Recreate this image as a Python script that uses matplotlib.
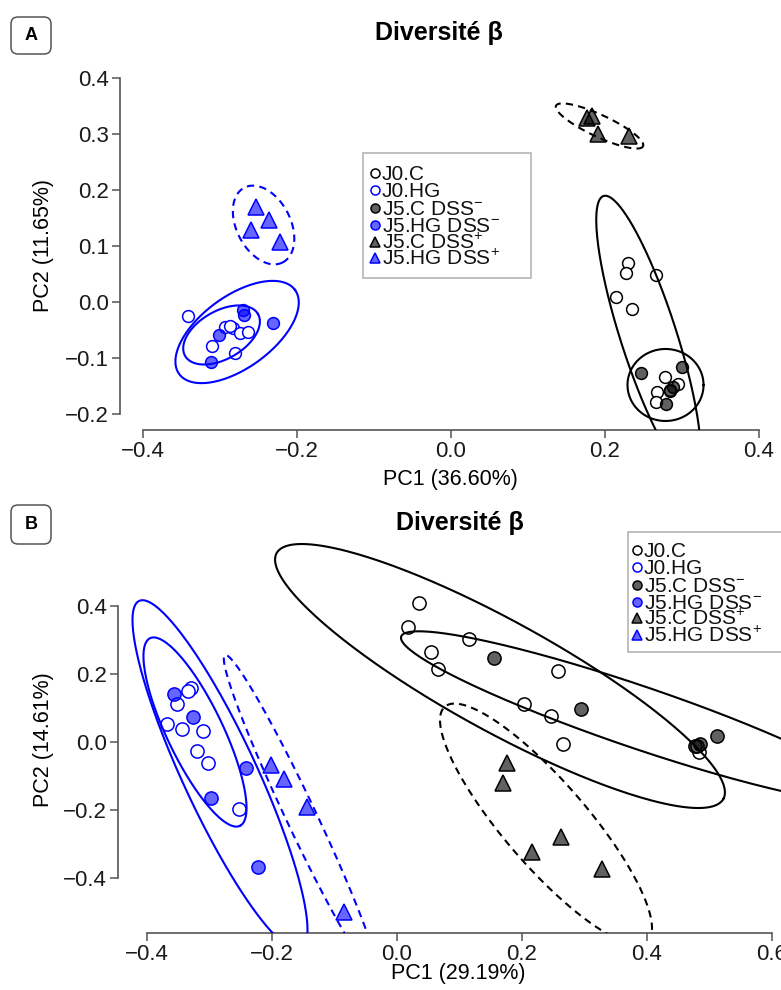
import numpy as np
import matplotlib
matplotlib.use("Agg")
import matplotlib.pyplot as plt
from matplotlib.patches import FancyBboxPatch, Rectangle
from matplotlib.lines import Line2D

plt.rcParams["font.family"] = ["Liberation Sans", "DejaVu Sans"]
plt.rcParams["mathtext.fontset"] = "custom"
plt.rcParams["mathtext.rm"] = "Liberation Sans"
plt.rcParams["mathtext.it"] = "Liberation Sans:italic"
plt.rcParams["mathtext.bf"] = "Liberation Sans:bold"

# groupes (ordre de la legende)
groups = ["J0.C", "J0.HG", "J5.C DSS-", "J5.HG DSS-", "J5.C DSS+", "J5.HG DSS+"]
legend_labels = ["J0.C", "J0.HG", "J5.C DSS$^{-}$", "J5.HG DSS$^{-}$",
                 "J5.C DSS$^{+}$", "J5.HG DSS$^{+}$"]

# ---- Panel A : PCoA (PC1 36.60%, PC2 11.65%)
A_J0C_X = [0.2305, 0.2279, 0.2656, 0.2149, 0.2357, 0.2773, 0.2942, 0.2669, 0.2656, 0.2838]
A_J0C_Y = [0.0696, 0.0518, 0.0482, 0.0089, -0.0125, -0.1339, -0.1464, -0.1607, -0.1786, -0.1571]
A_J0HG_X = [-0.3418, -0.311, -0.2812, -0.2942, -0.2838, -0.2747, -0.2643, -0.2877]
A_J0HG_Y = [-0.025, -0.078, -0.0911, -0.0446, -0.0464, -0.0554, -0.0536, -0.0429]
A_J5CM_X = [0.2461, 0.2994, 0.2838, 0.2786, 0.2877]
A_J5CM_Y = [-0.1268, -0.1161, -0.1589, -0.1821, -0.1518]
A_J5HGM_X = [-0.2701, -0.2695, -0.2314, -0.302, -0.3114]
A_J5HGM_Y = [-0.0143, -0.0232, -0.038, -0.0589, -0.1066]
A_J5CP_X = [0.176, 0.1825, 0.1903, 0.2318]
A_J5CP_Y = [0.3286, 0.3321, 0.3, 0.2964]
A_J5HGP_X = [-0.2539, -0.237, -0.2595, -0.2227]
A_J5HGP_Y = [0.1702, 0.1464, 0.1286, 0.1077]

# ellipses panel A (centre, demi-axe u, demi-axe v), meme ordre que groups
A_ELL_CX = [0.2565, -0.2981, 0.2786, -0.2779, 0.1929, -0.2435]
A_ELL_CY = [-0.0607, -0.0589, -0.1482, -0.0536, 0.3143, 0.1375]
A_ELL_UX = [0.0584, 0.0473, 0.0494, 0.0753, 0.0565, 0.0249]
A_ELL_UY = [-0.25, 0.0375, 0.0, 0.075, -0.0362, -0.0668]
A_ELL_VX = [-0.0346, 0.0156, 0.0, 0.0274, -0.006, -0.0312]
A_ELL_VY = [-0.0153, -0.0371, -0.0643, -0.0521, -0.0178, -0.022]

# ---- Panel B : PCoA (PC1 29.19%, PC2 14.61%)
B_J0C_X = [0.0352, 0.0171, 0.1157, 0.0544, 0.0661, 0.2581, 0.2032, 0.2464, 0.2651, 0.4837, 0.4795]
B_J0C_Y = [0.4085, 0.3381, 0.3012, 0.263, 0.2132, 0.2091, 0.1106, 0.0762, -0.0067, -0.0284, -0.0109]
B_J0HG_X = [-0.3301, -0.3349, -0.3515, -0.3685, -0.3435, -0.3109, -0.3205, -0.3019, -0.2528]
B_J0HG_Y = [0.1592, 0.1496, 0.1106, 0.0528, 0.0381, 0.0331, -0.0255, -0.0607, -0.1965]
B_J5CM_X = [0.1547, 0.2944, 0.5115, 0.4768, 0.4848]
B_J5CM_Y = [0.2472, 0.0959, 0.0176, -0.0109, -0.0059]
B_J5HGM_X = [-0.3563, -0.3269, -0.2416, -0.2981, -0.2219]
B_J5HGM_Y = [0.1399, 0.0724, -0.0754, -0.1651, -0.3657]
B_J5CP_X = [0.1765, 0.1691, 0.2624, 0.2155, 0.328]
B_J5CP_Y = [-0.0607, -0.1211, -0.2777, -0.3217, -0.3733]
B_J5HGP_X = [-0.2021, -0.1808, -0.1445, -0.0848]
B_J5HGP_Y = [-0.0674, -0.1094, -0.1897, -0.4977]

B_ELL_CX = [0.1648, -0.3232, 0.3856, -0.2832, 0.2384, -0.1536]
B_ELL_CY = [0.1935, 0.0293, 0.0733, -0.0968, -0.2405, -0.217]
B_ELL_UX = [0.3574, 0.0719, 0.3789, 0.1293, 0.1619, 0.1216]
B_ELL_UY = [-0.3604, -0.2751, -0.2361, -0.5106, -0.344, -0.4718]
B_ELL_VX = [-0.0424, -0.0404, -0.016, -0.0537, -0.0505, -0.0217]
B_ELL_VY = [-0.1413, -0.0355, -0.0862, -0.0457, -0.08, -0.0188]

# styles
BLUE = "#0000ff"
edge_cols = ["black", BLUE, "black", BLUE, "black", BLUE]
face_cols = ["white", "white", (0, 0, 0, 0.62), (0, 0, 1, 0.6), (0, 0, 0, 0.62), (0, 0, 1, 0.6)]
markers = ["o", "o", "o", "o", "^", "^"]
line_st = ["-", "-", "-", "-", (0, (3.5, 2.5)), (0, (3.5, 2.5))]

W, H = 781, 990
fig = plt.figure(figsize=(W / 100, H / 100), dpi=100)


def fx(px):
    return px / W


def fy(py):
    return 1 - py / H


def panel(box, xlim, ylim, xt, yt, xb, yb, pts, ell, msz):
    L, T, R, B = box
    ax = fig.add_axes([fx(L), fy(B), (R - L) / W, (B - T) / H])
    ax.set_xlim(*xlim)
    ax.set_ylim(*ylim)
    for i in range(6):
        ax.plot(pts[i][0], pts[i][1], ls="none", marker=markers[i],
                mfc=face_cols[i], mec=edge_cols[i], mew=1.1,
                ms=msz[1] if markers[i] == "^" else msz[0], zorder=3)
    t = np.linspace(0, 2 * np.pi, 300)
    cx, cy, ux, uy, vx, vy = ell
    for i in range(6):
        ex = cx[i] + ux[i] * np.cos(t) + vx[i] * np.sin(t)
        ey = cy[i] + uy[i] * np.cos(t) + vy[i] * np.sin(t)
        ax.plot(ex, ey, color=edge_cols[i], ls=line_st[i], lw=1.5, zorder=4)
    for s in ["top", "right"]:
        ax.spines[s].set_visible(False)
    ax.spines["bottom"].set_bounds(xb)
    ax.spines["left"].set_bounds(yb)
    for s in ["bottom", "left"]:
        ax.spines[s].set_color("#555555")
        ax.spines[s].set_linewidth(1.2)
    ax.set_xticks(xt)
    ax.set_yticks(yt)
    ax.set_xticklabels(["%.1f" % v if v >= 0 else "\u2212%.1f" % -v for v in xt])
    ax.set_yticklabels(["%.1f" % v if v >= 0 else "\u2212%.1f" % -v for v in yt])
    ax.tick_params(length=6, width=1.1, color="#555555", labelsize=16,
                   labelcolor="#1a1a1a", pad=2)
    ax.patch.set_alpha(0)
    return ax


def legend(x0, y0, x1, y1, mx, tx, ys, msz):
    fig.add_artist(Rectangle((fx(x0), fy(y1)), (x1 - x0) / W, (y1 - y0) / H,
                             transform=fig.transFigure, facecolor="white",
                             edgecolor="#bbbbbb", lw=1.3, zorder=10))
    for i in range(6):
        fig.add_artist(Line2D([fx(mx)], [fy(ys[i])], transform=fig.transFigure,
                              ls="none", marker=markers[i], mfc=face_cols[i],
                              mec=edge_cols[i], mew=1.1,
                              ms=msz + 1 if markers[i] == "^" else msz, zorder=11))
        fig.text(fx(tx), fy(ys[i] + 7), legend_labels[i], fontsize=15,
                 color="#111111", ha="left", va="baseline", zorder=11)


def tag(letter, y0, y1):
    fig.add_artist(FancyBboxPatch((0.11, (H - y1) / 100), 0.40, (y1 - y0) / 100,
                                  boxstyle="round,pad=0,rounding_size=0.07",
                                  transform=fig.dpi_scale_trans, facecolor="white",
                                  edgecolor="#555555", lw=1.1))
    fig.text(fx(31), fy((y0 + y1) / 2), letter, fontsize=13, fontweight="bold",
             ha="center", va="center")


# ---- Panel A
pts_a = [(A_J0C_X, A_J0C_Y), (A_J0HG_X, A_J0HG_Y), (A_J5CM_X, A_J5CM_Y),
         (A_J5HGM_X, A_J5HGM_Y), (A_J5CP_X, A_J5CP_Y), (A_J5HGP_X, A_J5HGP_Y)]
ell_a = (A_ELL_CX, A_ELL_CY, A_ELL_UX, A_ELL_UY, A_ELL_VX, A_ELL_VY)
panel((120, 65, 781, 430), (-0.430, 0.4286), (-0.2286, 0.4232),
      [-0.4, -0.2, 0.0, 0.2, 0.4], [-0.2, -0.1, 0.0, 0.1, 0.2, 0.3, 0.4],
      (-0.4, 0.4), (-0.2, 0.4), pts_a, ell_a, (8.5, 11))
fig.text(fx(439), fy(33), "Diversit\u00e9 \u03b2", fontsize=18, fontweight="bold",
         ha="center", va="center")
fig.text(fx(450), fy(479), "PC1 (36.60%)", fontsize=15.5, ha="center", va="center")
fig.text(fx(44), fy(245), "PC2 (11.65%)", fontsize=15.5, ha="center", va="center",
         rotation=90)
legend(363, 153, 531, 278, 375, 382, [173, 190, 208, 225, 242, 258], 6.5)
tag("A", 17, 54)

# ---- Panel B
pts_b = [(B_J0C_X, B_J0C_Y), (B_J0HG_X, B_J0HG_Y), (B_J5CM_X, B_J5CM_Y),
         (B_J5HGM_X, B_J5HGM_Y), (B_J5CP_X, B_J5CP_Y), (B_J5HGP_X, B_J5HGP_Y)]
ell_b = (B_ELL_CX, B_ELL_CY, B_ELL_UX, B_ELL_UY, B_ELL_VX, B_ELL_VY)
panel((118, 530, 781, 933), (-0.4464, 0.6144), (-0.5601, 0.6217),
      [-0.4, -0.2, 0.0, 0.2, 0.4, 0.6], [-0.4, -0.2, 0.0, 0.2, 0.4],
      (-0.4, 0.6), (-0.4, 0.4), pts_b, ell_b, (9.5, 12))
fig.text(fx(460), fy(523), "Diversit\u00e9 \u03b2", fontsize=18, fontweight="bold",
         ha="center", va="center")
fig.text(fx(458), fy(973), "PC1 (29.19%)", fontsize=15.5, ha="center", va="center")
fig.text(fx(44), fy(740), "PC2 (14.61%)", fontsize=15.5, ha="center", va="center",
         rotation=90)
legend(628, 532, 800, 652, 637, 644, [550, 567, 585, 602, 618, 635], 6.5)
tag("B", 505, 544)

fig.savefig("out.png", dpi=100, facecolor="white")
